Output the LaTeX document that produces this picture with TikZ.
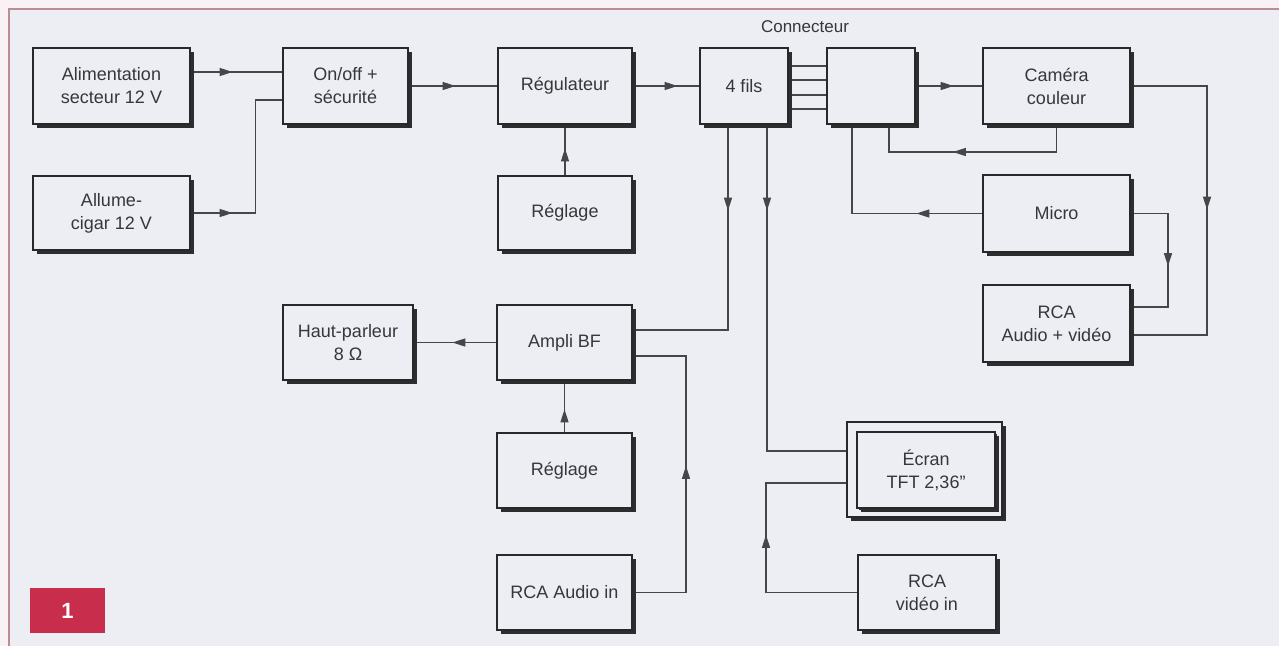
\documentclass[tikz,border=0pt]{standalone}
\usepackage{fontspec}
\setmainfont{Liberation Sans}
\usetikzlibrary{arrows.meta,decorations.markings,shadows}
\pgfdeclarelayer{back}
\pgfdeclarelayer{wires}
\pgfsetlayers{back,wires,main}
\definecolor{pagec}{RGB}{249,241,243}
\definecolor{bgc}{RGB}{236,238,243}
\definecolor{framec}{RGB}{185,140,150}
\definecolor{linec}{RGB}{70,70,72}
\definecolor{boxc}{RGB}{40,40,42}
\definecolor{shadc}{RGB}{45,45,48}
\definecolor{textc}{RGB}{55,55,58}
\definecolor{badgec}{RGB}{200,45,75}
\begin{document}
\begin{tikzpicture}[x=1pt,y=-1pt,
  blk/.style={rectangle, draw=boxc, line width=1.3pt, fill=bgc, inner sep=2pt,
    align=center, text=textc, font=\fontsize{18}{23}\selectfont,
    drop shadow={shadow xshift=3.5pt, shadow yshift=-3.5pt, fill=shadc, opacity=1}},
  sz/.style 2 args={minimum width=#1pt, minimum height=#2pt},
  wire/.style={color=linec, line width=1.2pt},
  arr/.style={postaction={decorate}, decoration={markings,
    mark=at position #1pt with {\arrow{Triangle[length=13pt,width=8pt]}}}},
]
\useasboundingbox (0,0) rectangle (1279,646);
\begin{pgfonlayer}{back}
  \fill[pagec] (0,0) rectangle (1279,646);
  \fill[bgc] (10,10) rectangle (1279,646);
  \draw[framec, line width=1.5pt] (9,646) -- (9,9) -- (1279,9);
\end{pgfonlayer}

% nodes
\node[blk, sz={157}{76}] (alim)   at (111.5,86)  {Alimentation\\secteur 12 V};
\node[blk, sz={157}{74}] (allume) at (111.5,213) {Allume-\\cigar 12 V};
\node[blk, sz={125}{76}] (onoff)  at (345.5,86)  {On/off +\\sécurité};
\node[blk, sz={134}{76}] (regul)  at (565,86)    {Régulateur};
\node[blk, sz={134}{74}] (reg1)   at (565,213)   {Réglage};
\node[blk, sz={88}{76}]  (fils)   at (744,86)    {4 fils};
\node[blk, sz={88}{76}]  (connb)  at (871,86)    {};
\node[font=\fontsize{17}{20}\selectfont, text=textc] (lbl) at (805,27) {Connecteur};
\node[blk, sz={147}{76}] (camera) at (1056.5,86)  {Caméra\\couleur};
\node[blk, sz={147}{77}] (micro)  at (1056.5,213.5) {Micro};
\node[blk, sz={147}{77}] (rcaav)  at (1056.5,323.5) {RCA\\Audio + vidéo};
\node[blk, sz={130}{75}] (hp)     at (348,342.5)  {Haut-parleur\\8 Ω};
\node[blk, sz={135}{75}] (ampli)  at (564.5,342.5) {Ampli BF};
\node[blk, sz={135}{75}] (reg2)   at (564.5,470.5) {Réglage};
\node[blk, sz={135}{75}] (rcaain) at (564.5,592.5) {RCA Audio in};
\node[blk, sz={155}{95}] (ecran)  at (924.5,469.5) {};
\node[blk, sz={138}{76}, drop shadow={shadow xshift=2pt, shadow yshift=-2pt, fill=shadc, opacity=1}] (ecranin) at (926,470) {Écran\\TFT 2,36”};
\node[blk, sz={138}{75}] (rcavin) at (927,592.5) {RCA\\vidéo in};
\node[fill=badgec, sz={75}{45}, text=white, font=\bfseries\fontsize{22}{22}\selectfont] (badge) at (67.5,610.5) {1};

% connectors
\begin{pgfonlayer}{wires}
\draw[wire, arr=42] (alim.east |- 0,72) -- (onoff.west |- 0,72);
\draw[wire, arr=42] (allume.east) -- ++(65,0) |- (onoff.west |- 0,100);
\draw[wire, arr=47] (onoff.east) -- (regul.west);
\draw[wire, arr=45] (regul.east) -- (fils.west);
\draw[wire, arr=27] (reg1.north) -- (regul.south);
\foreach \yy in {66,80,95,109}
  \draw[wire] (fils.east |- 0,\yy) -- (connb.west |- 0,\yy);
\draw[wire, arr=38] (connb.east) -- (camera.west);
\draw[wire, arr=131] (camera.south) -- (camera.south |- 0,152) -| (connb.south -| 889,0);
\draw[wire, arr=66] (micro.west) -| (connb.south -| 852,0);
\draw[wire, arr=200] (camera.east) -| (1207,335) -- (rcaav.east |- 0,335);
\draw[wire, arr=90] (micro.east) -| (1168,307) -- (rcaav.east |- 0,307);
\draw[wire, arr=86] (fils.south -| 728,0) |- (ampli.east |- 0,330);
\draw[wire, arr=86] (fils.south -| 767,0) |- (ecran.west |- 0,451);
\draw[wire, arr=44] (ampli.west) -- (hp.east);
\draw[wire, arr=23] (reg2.north) -- (ampli.south);
\draw[wire, arr=180] (rcaain.east) -| (686,356) -- (ampli.east |- 0,356);
\draw[wire, arr=149] (rcavin.west) -| (766,483) -- (ecran.west |- 0,483);
\end{pgfonlayer}
\end{tikzpicture}
\end{document}
